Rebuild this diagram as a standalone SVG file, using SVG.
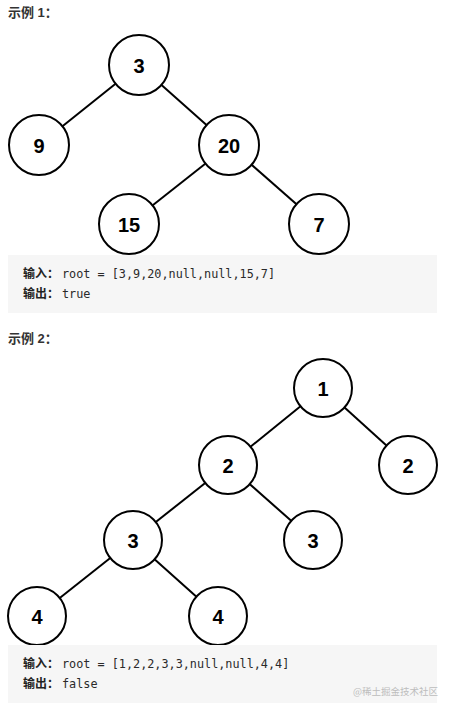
<svg xmlns="http://www.w3.org/2000/svg" width="453" height="712" viewBox="0 0 453 712">
<style>
.title{font-family:"Liberation Sans","Noto Sans CJK SC",sans-serif;font-size:13px;font-weight:bold;fill:#333}
.node circle{fill:#fff;stroke:#000;stroke-width:2}
.node text{font-family:"Liberation Sans",Arial,sans-serif;font-size:20px;font-weight:bold;fill:#000;text-anchor:middle;dominant-baseline:central}
.edges line{stroke:#000;stroke-width:2}
.box{fill:#f6f6f6}
.lbl{font-family:"Noto Sans CJK SC",sans-serif;font-size:12px;font-weight:bold;fill:#222}
.code{font-family:"DejaVu Sans Mono","Liberation Mono",monospace;font-size:11.8px;fill:#2a2a2a}
.wm{font-family:"Noto Sans CJK SC",sans-serif;font-size:9.5px;fill:#bdbdbd}
</style>
<rect width="453" height="712" fill="#fff"/>
<text class="title" x="8" y="17">示例 1：</text>
<g class="edges">
<line x1="139" y1="65" x2="39" y2="145"/>
<line x1="139" y1="65" x2="229" y2="145"/>
<line x1="229" y1="145" x2="129" y2="224"/>
<line x1="229" y1="145" x2="319" y2="224"/>
</g>
<g id="n1_3" class="node"><circle cx="139" cy="65" r="30"/><text x="139" y="66">3</text></g>
<g id="n1_9" class="node"><circle cx="39" cy="145" r="30"/><text x="39" y="146">9</text></g>
<g id="n1_20" class="node"><circle cx="229" cy="145" r="30"/><text x="229" y="146">20</text></g>
<g id="n1_15" class="node"><circle cx="129" cy="224" r="30"/><text x="129" y="225">15</text></g>
<g id="n1_7" class="node"><circle cx="319" cy="224" r="30"/><text x="319" y="225">7</text></g>
<rect class="box" x="8" y="255" width="429" height="58"/>
<text x="23" y="278"><tspan class="lbl">输入：</tspan><tspan class="code" x="62">root = [3,9,20,null,null,15,7]</tspan></text>
<text x="23" y="298"><tspan class="lbl">输出：</tspan><tspan class="code" x="62">true</tspan></text>
<text class="title" x="8" y="343">示例 2：</text>
<g class="edges">
<line x1="323" y1="388" x2="228" y2="465"/>
<line x1="323" y1="388" x2="408" y2="465"/>
<line x1="228" y1="465" x2="133" y2="540"/>
<line x1="228" y1="465" x2="313" y2="540"/>
<line x1="133" y1="540" x2="37" y2="616"/>
<line x1="133" y1="540" x2="218" y2="616"/>
</g>
<g id="n2_1" class="node"><circle cx="323" cy="388" r="29"/><text x="323" y="389">1</text></g>
<g id="n2_2a" class="node"><circle cx="228" cy="465" r="29"/><text x="228" y="466">2</text></g>
<g id="n2_2b" class="node"><circle cx="408" cy="465" r="29"/><text x="408" y="466">2</text></g>
<g id="n2_3a" class="node"><circle cx="133" cy="540" r="29"/><text x="133" y="541">3</text></g>
<g id="n2_3b" class="node"><circle cx="313" cy="540" r="29"/><text x="313" y="541">3</text></g>
<g id="n2_4a" class="node"><circle cx="37" cy="616" r="29"/><text x="37" y="617">4</text></g>
<g id="n2_4b" class="node"><circle cx="218" cy="616" r="29"/><text x="218" y="617">4</text></g>
<rect class="box" x="8" y="645" width="429" height="58"/>
<text x="23" y="668"><tspan class="lbl">输入：</tspan><tspan class="code" x="62">root = [1,2,2,3,3,null,null,4,4]</tspan></text>
<text x="23" y="688"><tspan class="lbl">输出：</tspan><tspan class="code" x="62">false</tspan></text>
<text class="wm" x="438" y="695" text-anchor="end">@稀土掘金技术社区</text>
</svg>
